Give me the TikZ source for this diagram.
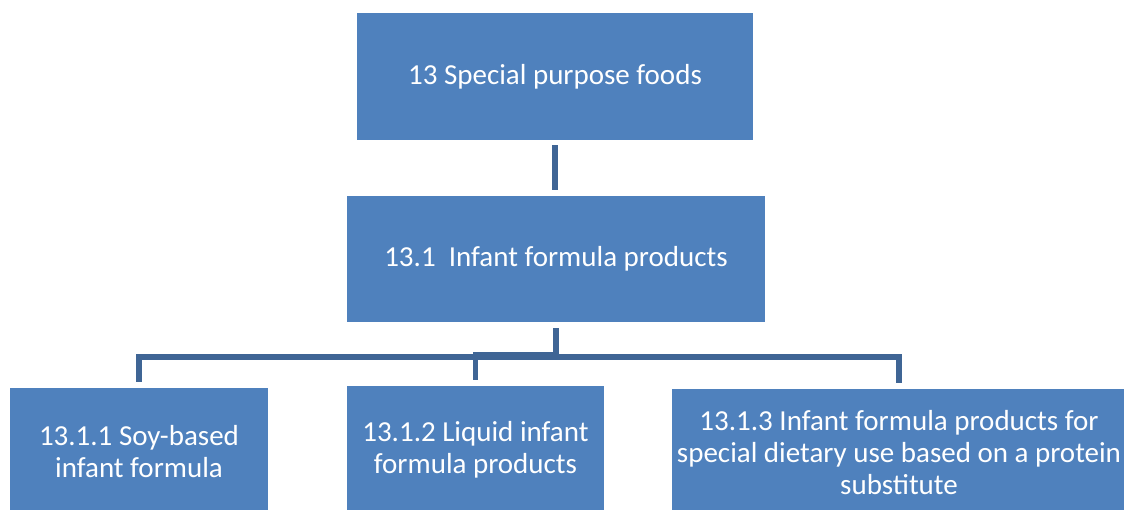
\documentclass[tikz,border=0pt]{standalone}
\usepackage{fontspec}
\setmainfont{Carlito}
\usetikzlibrary{positioning}
\definecolor{ctBox}{HTML}{4F81BD}
\definecolor{ctLink}{HTML}{3F6595}

\begin{document}
\begin{tikzpicture}[x=1pt,y=-1pt,
  box/.style={fill=ctBox,text=white,align=center,inner sep=0pt,outer sep=0pt,
    font=\fontsize{29}{32}\selectfont},
  link/.style={ctLink,line width=5.5pt,shorten <=6pt,shorten >=6pt}]
  \useasboundingbox (0,0) rectangle (1124,509);
  \clip (0,0) rectangle (1124,509);
  \node[box,minimum width=396pt,minimum height=127pt] (top) at (555,76.5) {13 Special purpose foods};
  \node[box,minimum width=418pt,minimum height=126pt] (sub) at (556,259) {13.1\ \ Infant formula products};
  \node[box,minimum width=258pt,minimum height=128pt] (soy) at (139,452) {13.1.1 Soy-based\\infant formula};
  \node[box,minimum width=257pt,minimum height=128pt] (liquid) at (475.5,450) {13.1.2 Liquid infant\\formula products};
  \node[box,minimum width=454pt,minimum height=128pt] (protein) at (899,453)
    {13.1.3 Infant formula products for\\special dietary use based on a protein\\substitute};
  \draw[link,shorten <=5pt] (top.south) -- (top.south |- sub.north);
  \draw[link] (sub.south) -- ++(0,35) -| (soy.north);
  \draw[link] (sub.south) -- ++(0,33) -| (liquid.north);
  \draw[link] (sub.south) -- ++(0,35) -| (protein.north);
\end{tikzpicture}
\end{document}
